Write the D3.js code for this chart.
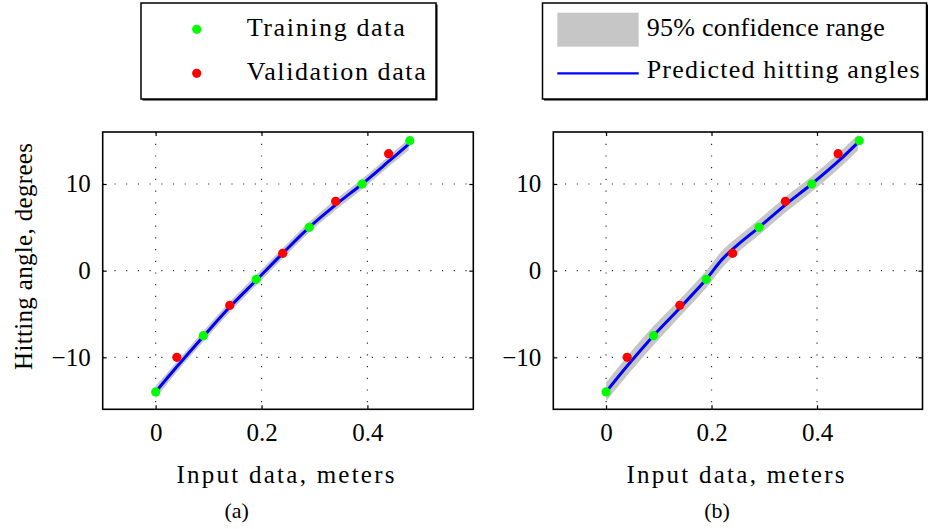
<!DOCTYPE html>
<html>
<head>
<meta charset="utf-8">
<title>Hitting angle prediction</title>
<script src="https://cdn.jsdelivr.net/npm/d3@7"></script>
<style>
  body{margin:0;background:#fff;}
  .axis .tick line{stroke:#000;stroke-width:1.2;}
  .axis path{display:none;}
  .grid line{stroke:#000;stroke-width:1.2;stroke-dasharray:1.2 10.5;opacity:.8;}
</style>
</head>
<body>
<script>
var width = 938, height = 529;
var serif = "'Liberation Serif', 'DejaVu Serif', serif";

// 训练点 / 验证点
var trainX = [0, 0.09, 0.19, 0.29, 0.39, 0.48];
var trainY = [-14, -7.5, -1, 5, 10, 15];
var valX = [0.04, 0.14, 0.24, 0.34, 0.44];
var valY = [-10, -4, 2, 8, 13.5];

// (a) 预测曲线和置信带
var predXA = [0, 0.04, 0.09, 0.14, 0.19, 0.24, 0.29, 0.34, 0.39, 0.44, 0.478];
var predA  = [-14, -11.1, -7.6, -4.2, -1.1, 2.0, 5.0, 7.6, 10.0, 12.6, 14.6];
var loA    = [-14.8, -11.7, -8.2, -4.8, -1.7, 1.4, 4.4, 7.0, 9.4, 12.0, 13.9];
var hiA    = [-13.3, -10.5, -7.0, -3.6, -0.5, 2.6, 5.6, 8.2, 10.6, 13.2, 15.2];

// (b) 预测曲线和置信带
var predXB = [0, 0.04, 0.09, 0.14, 0.19, 0.22, 0.25, 0.29, 0.34, 0.39, 0.44, 0.478];
var predB  = [-14, -11.0, -7.5, -4.3, -1.0, 1.3, 3.0, 5.0, 7.6, 10.0, 12.6, 14.8];
var loB    = [-15.1, -12.1, -8.6, -5.3, -2.0, 0.3, 2.1, 4.1, 6.7, 9.1, 11.7, 13.9];
var hiB    = [-12.9, -9.9, -6.4, -3.3, 0.0, 2.3, 3.9, 5.9, 8.5, 10.9, 13.5, 15.7];

var xTicks = [0, 0.2, 0.4], xTickLabels = ["0", "0.2", "0.4"];
var yTicks = [-10, 0, 10], yTickLabels = ["\u221210", "0", "10"];
var xDomain = [-0.1, 0.6], yDomain = [-16, 16];

var svg = d3.select("body").append("svg")
  .attr("width", width).attr("height", height)
  .attr("font-family", serif);

var yScale = d3.scaleLinear().domain(yDomain).range([409.3, 132]);

function zip(a, b) { return a.map(function(v, i){ return [v, b[i]]; }); }

function panel(x0, x1, px, pred, lo, hi, caption, captionX, yTitle) {
  var xScale = d3.scaleLinear().domain(xDomain).range([x0, x1]);
  var top = yScale.range()[1], bottom = yScale.range()[0];
  var g = svg.append("g");

  // 网格线
  var grid = g.append("g").attr("class", "grid");
  grid.selectAll(".gx").data(xTicks).enter().append("line")
    .attr("x1", function(d){ return xScale(d); }).attr("x2", function(d){ return xScale(d); })
    .attr("y1", top).attr("y2", bottom);
  grid.selectAll(".gy").data(yTicks).enter().append("line")
    .attr("x1", x0).attr("x2", x1)
    .attr("y1", function(d){ return yScale(d); }).attr("y2", function(d){ return yScale(d); });

  // 置信带
  var area = d3.area().curve(d3.curveCatmullRom)
    .x(function(d, i){ return xScale(px[i]); })
    .y0(function(d, i){ return yScale(lo[i]); })
    .y1(function(d, i){ return yScale(hi[i]); });
  g.append("path").attr("d", area(px)).attr("fill", "#c6c6c6");

  var line = d3.line().curve(d3.curveCatmullRom)
    .x(function(d){ return xScale(d[0]); })
    .y(function(d){ return yScale(d[1]); });
  g.append("path").attr("d", line(zip(px, pred)))
    .attr("fill", "none").attr("stroke", "#0000ff").attr("stroke-width", 3);

  g.selectAll(".tr").data(zip(trainX, trainY)).enter().append("circle")
    .attr("cx", function(d){ return xScale(d[0]); })
    .attr("cy", function(d){ return yScale(d[1]); })
    .attr("r", 4.6).attr("fill", "#00ff00");
  g.selectAll(".va").data(zip(valX, valY)).enter().append("circle")
    .attr("cx", function(d){ return xScale(d[0]); })
    .attr("cy", function(d){ return yScale(d[1]); })
    .attr("r", 4.6).attr("fill", "#ff0000");

  // 坐标轴 (刻度朝内)
  g.append("g").attr("class", "axis").attr("transform", "translate(0," + bottom + ")")
    .call(d3.axisBottom(xScale).tickValues(xTicks).tickSizeInner(-4).tickSizeOuter(0).tickPadding(14)
      .tickFormat(function(d, i){ return xTickLabels[i]; }));
  g.append("g").attr("class", "axis").attr("transform", "translate(0," + top + ")")
    .call(d3.axisTop(xScale).tickValues(xTicks).tickSizeInner(-4).tickSizeOuter(0).tickFormat(""));
  g.append("g").attr("class", "axis").attr("transform", "translate(" + x0 + ",0)")
    .call(d3.axisLeft(yScale).tickValues(yTicks).tickSizeInner(-4).tickSizeOuter(0).tickPadding(12)
      .tickFormat(function(d, i){ return yTickLabels[i]; }));
  g.append("g").attr("class", "axis").attr("transform", "translate(" + x1 + ",0)")
    .call(d3.axisRight(yScale).tickValues(yTicks).tickSizeInner(-4).tickSizeOuter(0).tickFormat(""));
  g.selectAll(".axis").attr("font-family", serif).attr("font-size", 25);
  g.selectAll(".axis text").style("font-family", serif).attr("fill", "#000");

  g.append("rect").attr("x", x0).attr("y", top).attr("width", x1 - x0).attr("height", bottom - top)
    .attr("fill", "none").attr("stroke", "#000").attr("stroke-width", 1.6);

  g.append("text").attr("x", xScale(0.2) + 24).attr("y", 483)
    .attr("text-anchor", "middle").style("font-family", serif).style("font-size", "25px")
    .attr("textLength", 218).attr("lengthAdjust", "spacing")
    .text("Input data, meters");
  g.append("text").attr("x", captionX).attr("y", 518)
    .attr("text-anchor", "middle").style("font-family", serif).style("font-size", "22px")
    .text(caption);

  if (yTitle) {
    g.append("text").attr("transform", "translate(31.5,256.5) rotate(-90)")
      .attr("text-anchor", "middle").style("font-family", serif).style("font-size", "25px")
      .attr("textLength", 227).attr("lengthAdjust", "spacing")
      .text(yTitle);
  }
}

panel(102.7, 473.3, predXA, predA, loA, hiA, "(a)", 236.7, "Hitting angle, degrees");
panel(553.3, 922.5, predXB, predB, loB, hiB, "(b)", 717, null);

// 图例
function legendBox(x, y, w, h) {
  svg.append("rect").attr("x", x + 1.5).attr("y", y + 1.5).attr("width", w).attr("height", h).attr("fill", "#000");
  svg.append("rect").attr("x", x).attr("y", y).attr("width", w).attr("height", h)
    .attr("fill", "#fff").attr("stroke", "#000").attr("stroke-width", 1.5);
}
var legendA = ["Training data", "Validation data"], legendALen = [158, 179];
var legendB = ["95% confidence range", "Predicted hitting angles"], legendBLen = [238, 273];

legendBox(141, 3, 295, 96);
svg.append("circle").attr("cx", 196.7).attr("cy", 29.3).attr("r", 4.6).attr("fill", "#00ff00");
svg.append("circle").attr("cx", 196.7).attr("cy", 73.3).attr("r", 4.6).attr("fill", "#ff0000");
svg.selectAll(".la").data(legendA).enter().append("text")
  .attr("x", 246.7).attr("y", function(d, i){ return i ? 79.5 : 35.5; })
  .style("font-family", serif).style("font-size", "26px")
  .attr("textLength", function(d, i){ return legendALen[i]; }).attr("lengthAdjust", "spacing")
  .text(function(d){ return d; });

legendBox(542.5, 3, 384, 96);
svg.append("rect").attr("x", 557.3).attr("y", 12.7).attr("width", 81.4).attr("height", 34).attr("fill", "#c6c6c6");
svg.append("line").attr("x1", 557.3).attr("x2", 638.7).attr("y1", 73.3).attr("y2", 73.3)
  .attr("stroke", "#0000ff").attr("stroke-width", 2.2);
svg.selectAll(".lb").data(legendB).enter().append("text")
  .attr("x", 646.7).attr("y", function(d, i){ return i ? 78 : 36; })
  .style("font-family", serif).style("font-size", "26px")
  .attr("textLength", function(d, i){ return legendBLen[i]; }).attr("lengthAdjust", "spacing")
  .text(function(d){ return d; });
</script>
</body>
</html>
